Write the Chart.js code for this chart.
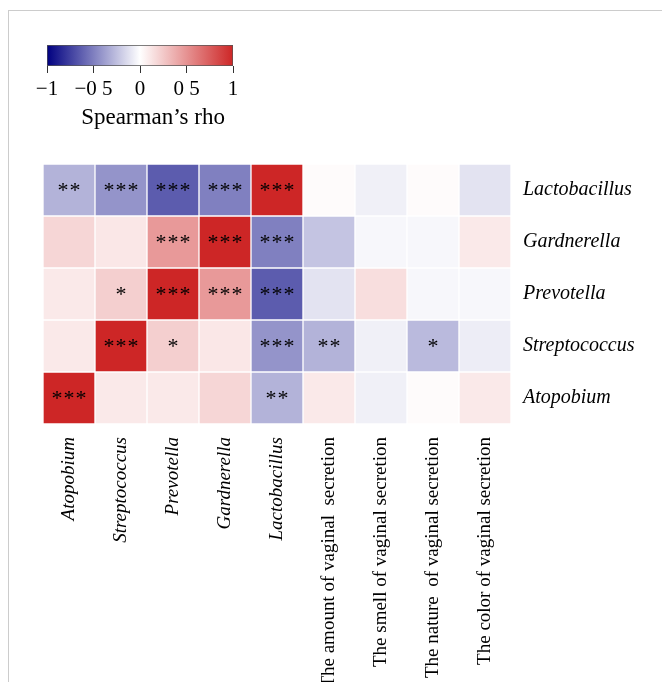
<!DOCTYPE html>
<html>
<head>
<meta charset="utf-8">
<script src="https://cdn.jsdelivr.net/npm/chart.js@4.4.1/dist/chart.umd.min.js"></script>
<style>
  html, body { margin: 0; padding: 0; background: #ffffff; }
  #wrap { position: relative; width: 662px; height: 682px; overflow: hidden; }
  #frame { position: absolute; left: 8px; top: 10px; right: -2px; bottom: -2px; border-top: 1px solid #cccccc; border-left: 1px solid #cccccc; }
  #main { position: absolute; left: 0; top: 0; }
  #legend { position: absolute; left: 0; top: 0; }
</style>
</head>
<body>
<div id="wrap">
  <div id="frame"></div>
  <canvas id="main" width="662" height="682"></canvas>
  <canvas id="legend" width="300" height="140"></canvas>
</div>
<script>
// ---- data ----
const columns = ["Atopobium", "Streptococcus", "Prevotella", "Gardnerella", "Lactobacillus",
  "The amount of vaginal  secretion", "The smell of vaginal secretion",
  "The nature  of vaginal secretion", "The color of vaginal secretion"];
const italicColumns = 5;
const rows = ["Lactobacillus", "Gardnerella", "Prevotella", "Streptococcus", "Atopobium"];

const rhoLactobacillus = [-0.30, -0.42, -0.64, -0.50, 1.00, 0.02, -0.06, 0.02, -0.11];
const rhoGardnerella   = [0.19, 0.11, 0.47, 1.00, -0.50, -0.23, -0.03, -0.03, 0.10];
const rhoPrevotella    = [0.10, 0.22, 1.00, 0.47, -0.64, -0.11, 0.15, -0.03, -0.03];
const rhoStreptococcus = [0.10, 1.00, 0.22, 0.11, -0.42, -0.30, -0.06, -0.27, -0.07];
const rhoAtopobium     = [1.00, 0.10, 0.10, 0.19, -0.30, 0.10, -0.06, 0.02, 0.10];

const starsLactobacillus = ["**", "***", "***", "***", "***", "", "", "", ""];
const starsGardnerella   = ["", "", "***", "***", "***", "", "", "", ""];
const starsPrevotella    = ["", "*", "***", "***", "***", "", "", "", ""];
const starsStreptococcus = ["", "***", "*", "", "***", "**", "", "*", ""];
const starsAtopobium     = ["***", "", "", "", "**", "", "", "", ""];

const legendTickValues = [-1, -0.5, 0, 0.5, 1];
const legendTickLabels = ["\u22121", "\u22120 5", "0", "0 5", "1"];
const legendTitle = "Spearman\u2019s rho";

const rhoRows = [rhoLactobacillus, rhoGardnerella, rhoPrevotella, rhoStreptococcus, rhoAtopobium];
const starRows = [starsLactobacillus, starsGardnerella, starsPrevotella, starsStreptococcus, starsAtopobium];

// ---- colours ----
const LOW = [0, 0, 128], MID = [255, 255, 255], HIGH = [205, 38, 38];
function rhoColor(v) {
  const t = Math.min(1, Math.abs(v));
  const end = v < 0 ? LOW : HIGH;
  const c = MID.map((m, i) => Math.round(m + (end[i] - m) * t));
  return `rgb(${c[0]},${c[1]},${c[2]})`;
}

const SERIF = '"Liberation Serif", "Times New Roman", serif';

// ---- main heatmap ----
const datasets = rows.map((name, r) => ({
  label: name,
  data: columns.map(() => [r, r + 1]),
  backgroundColor: rhoRows[r].map(rhoColor),
  borderColor: 'rgba(255,255,255,0.35)',
  borderWidth: 1,
  borderSkipped: false,
  grouped: false,
  barPercentage: 1,
  categoryPercentage: 1
}));

const starPlugin = {
  id: 'stars',
  afterDatasetsDraw(chart) {
    const ctx = chart.ctx;
    ctx.save();
    ctx.font = '22px ' + SERIF;
    ctx.fillStyle = '#000';
    ctx.textAlign = 'center';
    ctx.textBaseline = 'middle';
    if ('letterSpacing' in ctx) ctx.letterSpacing = '1px';
    chart.data.datasets.forEach((ds, i) => {
      const meta = chart.getDatasetMeta(i);
      meta.data.forEach((el, j) => {
        const s = starRows[i][j];
        if (!s) return;
        const p = el.getProps(['x', 'y', 'base'], true);
        ctx.fillText(s, p.x + 0.5, (p.y + p.base) / 2 + 1);
      });
    });
    ctx.restore();
  }
};

new Chart(document.getElementById('main'), {
  type: 'bar',
  data: { labels: columns, datasets },
  options: {
    responsive: false,
    animation: false,
    layout: { padding: { left: 43, top: 164, right: 0, bottom: 0 } },
    plugins: { legend: { display: false }, tooltip: { enabled: false } },
    scales: {
      x: {
        type: 'category',
        grid: { display: false, drawTicks: false },
        border: { display: false },
        afterFit(s) { s.height = 682 - 424; },
        ticks: {
          autoSkip: false,
          minRotation: 90,
          maxRotation: 90,
          padding: 13,
          color: '#000',
          font: (c) => ({ family: SERIF, size: 19, style: c.index < italicColumns ? 'italic' : 'normal' })
        }
      },
      y: {
        type: 'linear',
        position: 'right',
        min: 0,
        max: rows.length,
        reverse: true,
        grid: { display: false, drawTicks: false },
        border: { display: false },
        afterFit(s) { s.width = 662 - 511; },
        afterBuildTicks(s) { s.ticks = rows.map((_, i) => ({ value: i + 0.5 })); },
        ticks: {
          padding: 12,
          color: '#000',
          font: { family: SERIF, size: 20, style: 'italic' },
          callback: (v) => rows[Math.floor(v)]
        }
      }
    }
  },
  plugins: [starPlugin]
});

// ---- colour key ----
const keyTitlePlugin = {
  id: 'keyTitle',
  afterDraw(chart) {
    const ctx = chart.ctx;
    const x = chart.scales.x;
    ctx.save();
    ctx.font = '23px ' + SERIF;
    ctx.fillStyle = '#000';
    ctx.textAlign = 'center';
    ctx.textBaseline = 'middle';
    ctx.fillText(legendTitle, x.getPixelForValue(0.14), 118);
    ctx.restore();
  }
};

new Chart(document.getElementById('legend'), {
  type: 'bar',
  data: {
    labels: ['rho'],
    datasets: [{
      data: [[legendTickValues[0], legendTickValues[legendTickValues.length - 1]]],
      backgroundColor: (c) => {
        const chart = c.chart;
        if (!chart.chartArea) return '#fff';
        const x = chart.scales.x;
        const x0 = x.getPixelForValue(-1), x1 = x.getPixelForValue(1);
        const g = chart.ctx.createLinearGradient(x0, 0, x1, 0);
        g.addColorStop(0, rhoColor(-1));
        g.addColorStop(0.5, rhoColor(0));
        g.addColorStop(1, rhoColor(1));
        return g;
      },
      borderColor: '#555',
      borderWidth: 1,
      borderSkipped: false,
      barPercentage: 1,
      categoryPercentage: 1
    }]
  },
  options: {
    indexAxis: 'y',
    responsive: false,
    animation: false,
    layout: { padding: { left: 47, top: 45, right: 300 - 233, bottom: 0 } },
    plugins: { legend: { display: false }, tooltip: { enabled: false } },
    scales: {
      y: { display: false },
      x: {
        type: 'linear',
        min: -1,
        max: 1,
        afterFit(s) { s.height = 140 - 66; },
        afterBuildTicks(s) { s.ticks = legendTickValues.map(v => ({ value: v })); },
        grid: { drawOnChartArea: false, drawTicks: true, tickLength: 7, color: '#333', lineWidth: 1 },
        border: { display: false },
        ticks: {
          padding: 4,
          color: '#000',
          maxRotation: 0,
          font: { family: SERIF, size: 21 },
          callback: (v) => legendTickLabels[legendTickValues.indexOf(v)]
        }
      }
    }
  },
  plugins: [keyTitlePlugin]
});
</script>
</body>
</html>
